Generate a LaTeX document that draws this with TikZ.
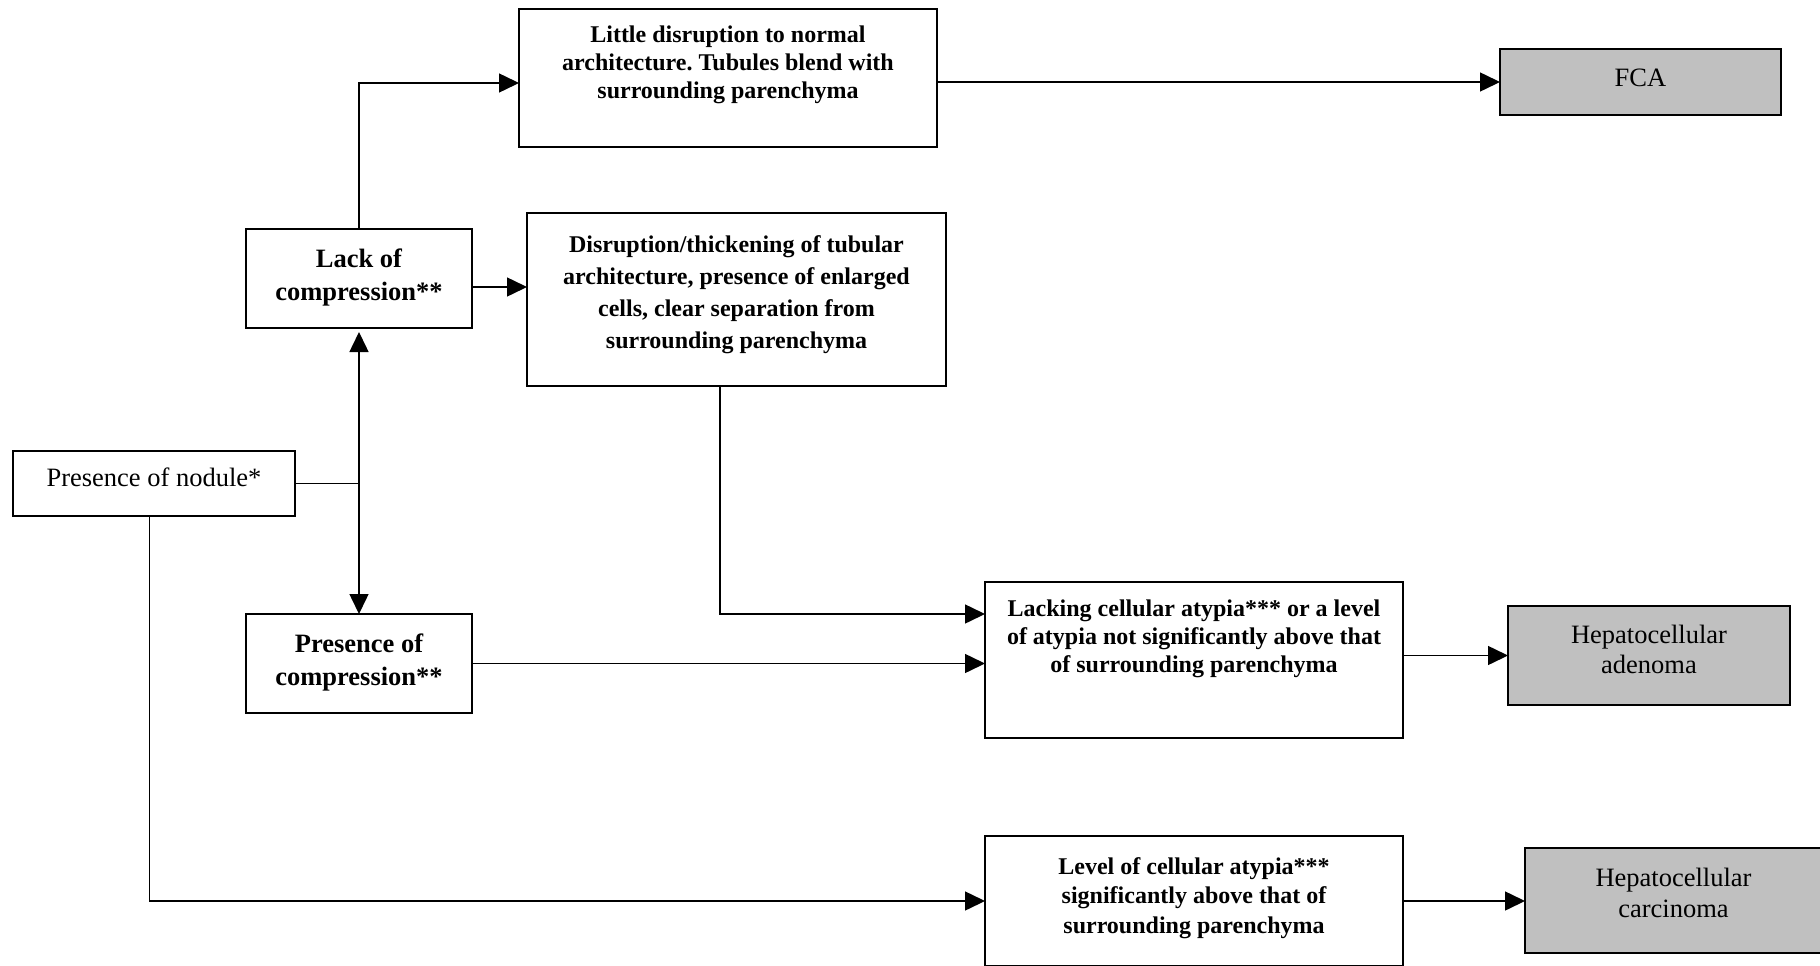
\documentclass[tikz,border=0pt]{standalone}
\usepackage{fontspec}
\setmainfont{Liberation Serif}
\usetikzlibrary{arrows.meta,calc}
\definecolor{boxgray}{RGB}{192,192,192}
\frenchspacing
\newcommand\bxt[4]{\begin{minipage}[c][#2pt][t]{#1pt}\centering\rule{0pt}{#3pt}#4\end{minipage}}
\tikzset{
  box/.style={draw, line width=1.6pt, inner sep=0pt, outer sep=0pt, anchor=north west},
  gbox/.style={box, fill=boxgray},
  conn/.style={line width=1.5pt},
  arr/.style={conn, -{Triangle[length=20pt,width=19pt]}},
}
\begin{document}
\begin{tikzpicture}[x=1pt,y=-1pt]
\useasboundingbox (0,0) rectangle (1820,966);
\fill[white] (0,0) rectangle (1820,966);

\node[box, font=\fontsize{24}{27.5}\selectfont\bfseries] (little) at (519,9)
  {\bxt{418}{138}{34}{Little disruption to normal\\ architecture. Tubules blend with\\ surrounding parenchyma}};
\node[gbox, font=\fontsize{26.5}{30}\selectfont] (fca) at (1500,49)
  {\bxt{281}{66}{37}{FCA}};
\node[box, font=\fontsize{26.5}{33}\selectfont\bfseries] (lack) at (246,229)
  {\bxt{226}{99}{38}{Lack of\\ compression**}};
\node[box, font=\fontsize{24}{32}\selectfont\bfseries] (disr) at (527,213)
  {\bxt{419}{173}{39}{Disruption/thickening of tubular\\ architecture, presence of enlarged\\ cells, clear separation from\\ surrounding parenchyma}};
\node[box, font=\fontsize{26.5}{30}\selectfont] (nodule) at (13,451)
  {\bxt{282}{65}{35}{Presence of nodule*}};
\node[box, font=\fontsize{26.5}{32.5}\selectfont\bfseries] (pcomp) at (246,614)
  {\bxt{226}{99}{38.6}{Presence of\\ compression**}};
\node[box, font=\fontsize{24}{28}\selectfont\bfseries] (lacking) at (985,582)
  {\bxt{418}{156}{34}{Lacking cellular atypia*** or a level\\ of atypia not significantly above that\\ of surrounding parenchyma}};
\node[gbox, font=\fontsize{26.5}{30}\selectfont] (adenoma) at (1508,606)
  {\bxt{282}{99}{37}{Hepatocellular\\ adenoma}};
\node[box, font=\fontsize{24}{29.6}\selectfont\bfseries] (level) at (985,836)
  {\bxt{418}{130}{38}{Level of cellular atypia***\\ significantly above that of\\ surrounding parenchyma}};
\node[gbox, font=\fontsize{26.5}{30.5}\selectfont] (carc) at (1525,848)
  {\bxt{297}{105}{38.5}{Hepatocellular\\ carcinoma}};

\coordinate (j) at (lack.south |- nodule.east);
\draw[arr] (lack.north) |- ([yshift=-5pt]little.west);
\draw[arr] (fca.west -| little.east) -- (fca.west);
\draw[arr] ([yshift=-8.5pt]lack.east) -- ([yshift=-8.5pt]lack.east -| disr.west);
\draw[conn] (nodule.east) -- (j);
\draw[arr, shorten >=4pt] (j) -- (lack.south);
\draw[arr] (j) -- (pcomp.north);
\draw[arr] ([xshift=-16.5pt]disr.south) |- ([yshift=-32pt]lacking.north west);
\draw[arr] (pcomp.east) -- (pcomp.east -| lacking.west);
\draw[arr] ([xshift=-4.5pt]nodule.south) |- (level.west);
\draw[arr] (adenoma.west -| lacking.east) -- (adenoma.west);
\draw[arr] (level.east) -- (level.east -| carc.west);
\end{tikzpicture}
\end{document}
